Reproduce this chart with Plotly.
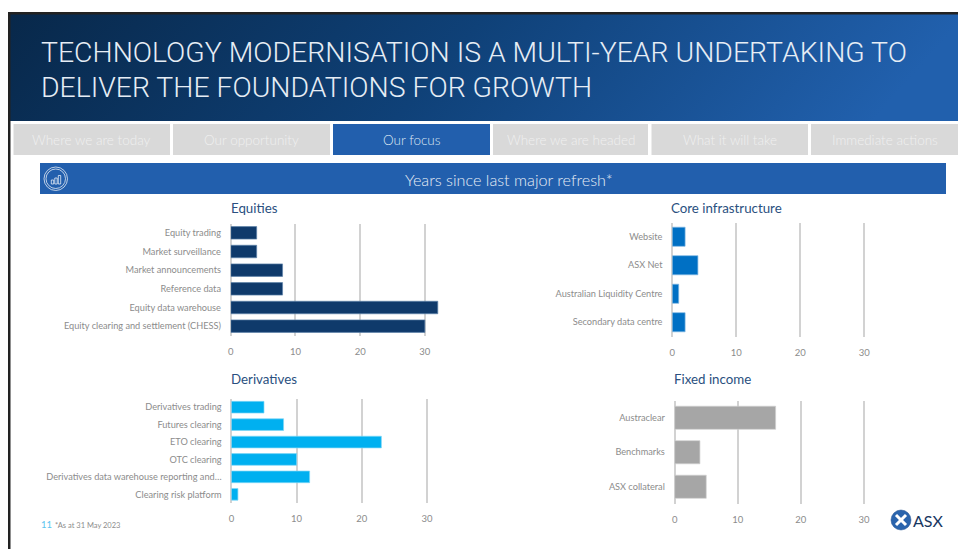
import base64
import plotly.graph_objects as go

W, H = 958, 549
FONT = "Lato"

title_lines = ["TECHNOLOGY MODERNISATION IS A MULTI-YEAR UNDERTAKING TO",
               "DELIVER THE FOUNDATIONS FOR GROWTH"]
tabs = ["Where we are today", "Our opportunity", "Our focus",
        "Where we are headed", "What it will take", "Immediate actions"]
active_tab = "Our focus"
band_title = "Years since last major refresh*"
footnote = "*As at 31 May 2023"
page_number = "11"

equities_cats = ["Equity trading", "Market surveillance", "Market announcements",
                 "Reference data", "Equity data warehouse", "Equity clearing and settlement (CHESS)"]
equities_vals = [4, 4, 8, 8, 32, 30]
derivatives_cats = ["Derivatives trading", "Futures clearing", "ETO clearing", "OTC clearing",
                    "Derivatives data warehouse reporting and…", "Clearing risk platform"]
derivatives_vals = [5, 8, 23, 10, 12, 1]
core_cats = ["Website", "ASX Net", "Australian Liquidity Centre", "Secondary data centre"]
core_vals = [2, 4, 1, 2]
fixed_cats = ["Austraclear", "Benchmarks", "ASX collateral"]
fixed_vals = [16, 4, 5]
x_ticks = [0, 10, 20, 30]


def px(x):
    return (x - 3) / (W - 3)


def py(y):
    return 1 - y / H


def rect(x0, y0, x1, y1, fill, line=None, width=0):
    return dict(type="rect", xref="paper", yref="paper", x0=px(x0), x1=px(x1), y0=py(y1), y1=py(y0),
                fillcolor=fill, line=dict(color=line or fill, width=width), layer="below")


def circle(x0, y0, x1, y1, fill="rgba(0,0,0,0)", line="white", width=0.7, layer="above"):
    return dict(type="circle", xref="paper", yref="paper", x0=px(x0), x1=px(x1), y0=py(y1), y1=py(y0),
                fillcolor=fill, line=dict(color=line, width=width), layer=layer)


def seg(x0, y0, x1, y1, color, width):
    return dict(type="line", xref="paper", yref="paper", x0=px(x0), x1=px(x1), y0=py(y0), y1=py(y1),
                line=dict(color=color, width=width), layer="above")


def txt(x, y, s, size, color, anchor="left", weight=400, family=FONT):
    return dict(xref="paper", yref="paper", x=px(x), y=py(y), text=s, showarrow=False,
                xanchor=anchor, yanchor="middle", align=anchor,
                font=dict(family=family, size=size, color=color, weight=weight))


shapes, annotations = [], []

# header gradient
svg = ('<svg xmlns="http://www.w3.org/2000/svg" width="948" height="107">'
       '<defs><linearGradient id="g" x1="0" y1="0" x2="1" y2="0.1">'
       '<stop offset="0" stop-color="#08284a"/><stop offset="0.5" stop-color="#0f4178"/>'
       '<stop offset="1" stop-color="#2160ad"/></linearGradient></defs>'
       '<rect width="948" height="107" fill="url(#g)"/></svg>')
img = "data:image/svg+xml;base64," + base64.b64encode(svg.encode()).decode()
images = [dict(source=img, xref="paper", yref="paper", x=px(10), y=py(14), sizex=948 / (W - 3), sizey=107 / H,
               xanchor="left", yanchor="top", sizing="stretch", layer="below")]

# slide border
shapes.append(rect(8, 12, 958, 14.5, "#222222"))
shapes.append(rect(8, 12, 10.5, 549, "#222222"))

# title
annotations.append(txt(38.5, 53, title_lines[0], 28.4, "#e6edf5", weight=300, family="Roboto"))
annotations.append(txt(38.5, 87.5, title_lines[1], 28.4, "#e6edf5", weight=300, family="Roboto"))

# tabs
tab_edges = [(13.5, 170), (173, 330), (333, 490), (493, 648), (651.5, 808), (811, 958)]
for name, (a, b) in zip(tabs, tab_edges):
    on = name == active_tab
    shapes.append(rect(a, 124, b, 155, "#225fad" if on else "#d9d9d9"))
    annotations.append(txt((a + b) / 2, 140, name, 13.5, "#dfe8f3" if on else "#f0f0f0", "center", 300))

# band
shapes.append(rect(40, 163, 946, 194, "#225fad"))
annotations.append(txt(508.5, 179, band_title, 16.2, "#e6edf5", "center", 300))

# band icon
shapes.append(circle(44, 167, 67.5, 190.5))
shapes.append(circle(46, 169, 65.5, 188.5))
for x, top in [(52.5, 180), (56, 178), (59.5, 175.5)]:
    shapes.append(dict(type="rect", xref="paper", yref="paper", x0=px(x - 1.2), x1=px(x + 1.2),
                       y0=py(184), y1=py(top), fillcolor="rgba(0,0,0,0)",
                       line=dict(color="white", width=0.7), layer="above"))

panels = [
    ("Equities", equities_cats, equities_vals, "#0f3a6b", "#5f84ab", (230.8, 457.2), (223.5, 335.5), "x", "y", 229, 208),
    ("Core infrastructure", core_cats, core_vals, "#0070c4", "#7db6e2", (672.3, 896.3), (222.5, 336.5), "x2", "y2", 669, 208),
    ("Derivatives", derivatives_cats, derivatives_vals, "#00b0f0", "#7fd7f7", (231.4, 459.6), (398.5, 503), "x3", "y3", 229, 379),
    ("Fixed income", fixed_cats, fixed_vals, "#a6a6a6", "#d0d0d0", (674.7, 895.5), (400.5, 504), "x4", "y4", 672, 379),
]

fig = go.Figure()
layout_axes = {}
for name, cats, vals, col, edge, (xa, xb), (ya, yb), xr, yr, tx, ty in panels:
    fig.add_trace(go.Bar(x=vals, y=cats, orientation="h", xaxis=xr, yaxis=yr, width=0.67,
                         marker=dict(color=col, line=dict(color=edge, width=0.7)),
                         showlegend=False, hoverinfo="skip"))
    annotations.append(txt(tx, ty, name, 13.3, "#2a5080"))
    xkey = "xaxis" + xr[1:]
    ykey = "yaxis" + yr[1:]
    layout_axes[xkey] = dict(domain=[px(xa), px(xb)], range=[0, 35], anchor=yr, tickvals=x_ticks,
                             showgrid=True, gridcolor="#d2d2d2", gridwidth=1.5, zeroline=True,
                             zerolinecolor="#d2d2d2", zerolinewidth=1.5, showline=False,
                             ticks="outside", ticklen=7, tickcolor="rgba(0,0,0,0)",
                             tickfont=dict(family=FONT, size=9.5, color="#8c8c8c"), fixedrange=True)
    layout_axes[ykey] = dict(domain=[py(yb), py(ya)], anchor=xr, autorange="reversed", type="category",
                             showgrid=False, showline=False, zeroline=False,
                             ticks="outside", ticklen=7, tickcolor="rgba(0,0,0,0)",
                             tickfont=dict(family=FONT, size=9.2, color="#8c8c8c"), fixedrange=True)

# footer
annotations.append(txt(38.5, 524, page_number, 9.5, "#5cc4ef"))
annotations.append(txt(53, 525, footnote, 7.5, "#8c8c8c"))

# logo
shapes.append(circle(891, 510, 911, 530, fill="#2a64ad", line="#1c4f90", width=0.5))
shapes.append(seg(896, 515, 906, 525, "white", 3))
shapes.append(seg(906, 515, 896, 525, "white", 3))
annotations.append(txt(910.5, 520.5, "ASX", 16, "#17365f"))

fig.update_layout(width=W, height=H, margin=dict(l=0, r=0, t=0, b=0), paper_bgcolor="white",
                  plot_bgcolor="rgba(0,0,0,0)", shapes=shapes, annotations=annotations, images=images,
                  **layout_axes)
fig.write_html("out.html", config=dict(displayModeBar=False),
               post_script="document.body.style.margin='0';document.documentElement.style.overflow='hidden';")
